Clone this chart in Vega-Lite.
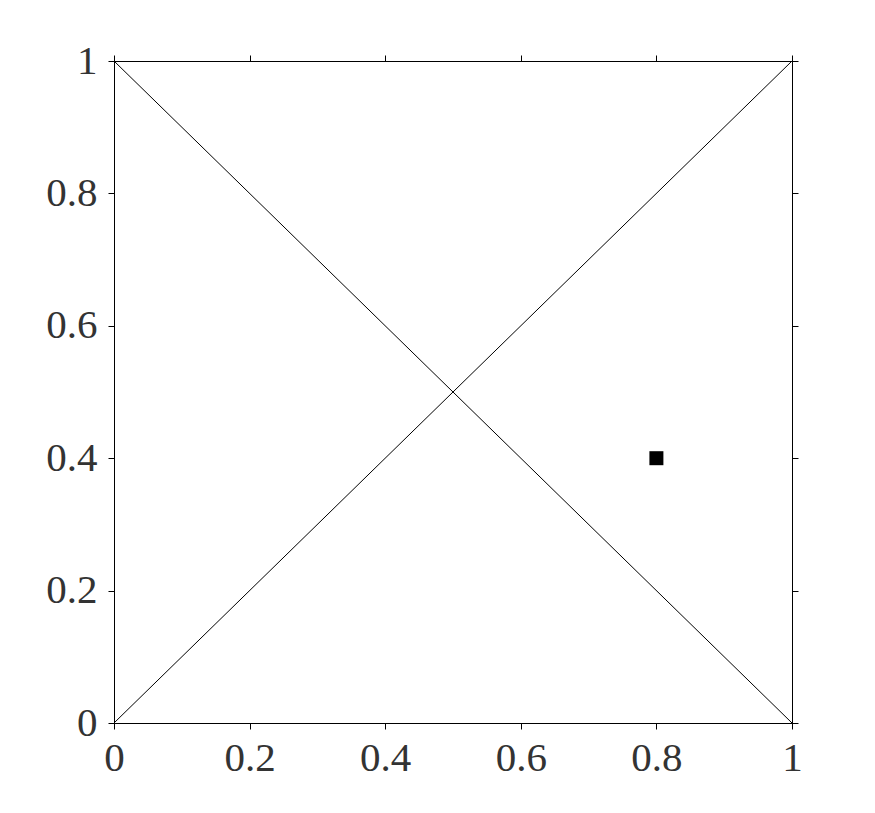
{
  "$schema": "https://vega.github.io/schema/vega-lite/v6.json",
  "width": 678,
  "height": 662,
  "autosize": {"type": "none"},
  "padding": {"left": 114, "top": 61, "right": 83, "bottom": 90},
  "background": "white",
  "config": {
    "view": {"stroke": "black", "strokeWidth": 1},
    "axis": {
      "labelFont": "Liberation Serif",
      "labelFontSize": 41,
      "labelColor": "#333333",
      "domainColor": "black",
      "tickColor": "black",
      "tickSize": 6,
      "grid": false,
      "title": null
    }
  },
  "datasets": {
    "lines": [
      {"line": "a", "x": 0, "y": 0},
      {"line": "a", "x": 1, "y": 1},
      {"line": "b", "x": 0, "y": 1},
      {"line": "b", "x": 1, "y": 0}
    ],
    "pt": [{"x": 0.8, "y": 0.4}]
  },
  "layer": [
    {
      "data": {"name": "lines"},
      "mark": {"type": "line", "color": "black", "strokeWidth": 1},
      "encoding": {
        "x": {"field": "x", "type": "quantitative", "scale": {"domain": [0, 1], "nice": false, "zero": false},
              "axis": {"values": [0, 0.2, 0.4, 0.6, 0.8, 1], "labelPadding": 9, "labelFlush": false, "format": "~g"}},
        "y": {"field": "y", "type": "quantitative", "scale": {"domain": [0, 1], "nice": false, "zero": false},
              "axis": {"values": [0, 0.2, 0.4, 0.6, 0.8, 1], "labelPadding": 11, "labelFlush": false, "format": "~g"}},
        "detail": {"field": "line"}
      }
    },
    {
      "data": {"name": "pt"},
      "mark": {"type": "point", "shape": "square", "filled": true, "color": "black", "opacity": 1, "size": 196},
      "encoding": {
        "x": {"field": "x", "type": "quantitative", "axis": null},
        "y": {"field": "y", "type": "quantitative", "axis": null}
      }
    },
    {
      "data": {"name": "pt"},
      "mark": {"type": "point", "opacity": 0},
      "encoding": {
        "x": {"field": "x", "type": "quantitative",
              "axis": {"orient": "top", "values": [0, 0.2, 0.4, 0.6, 0.8, 1], "labels": false}},
        "y": {"field": "y", "type": "quantitative",
              "axis": {"orient": "right", "values": [0, 0.2, 0.4, 0.6, 0.8, 1], "labels": false}}
      }
    }
  ],
  "resolve": {"scale": {"x": "shared", "y": "shared"}, "axis": {"x": "independent", "y": "independent"}}
}
